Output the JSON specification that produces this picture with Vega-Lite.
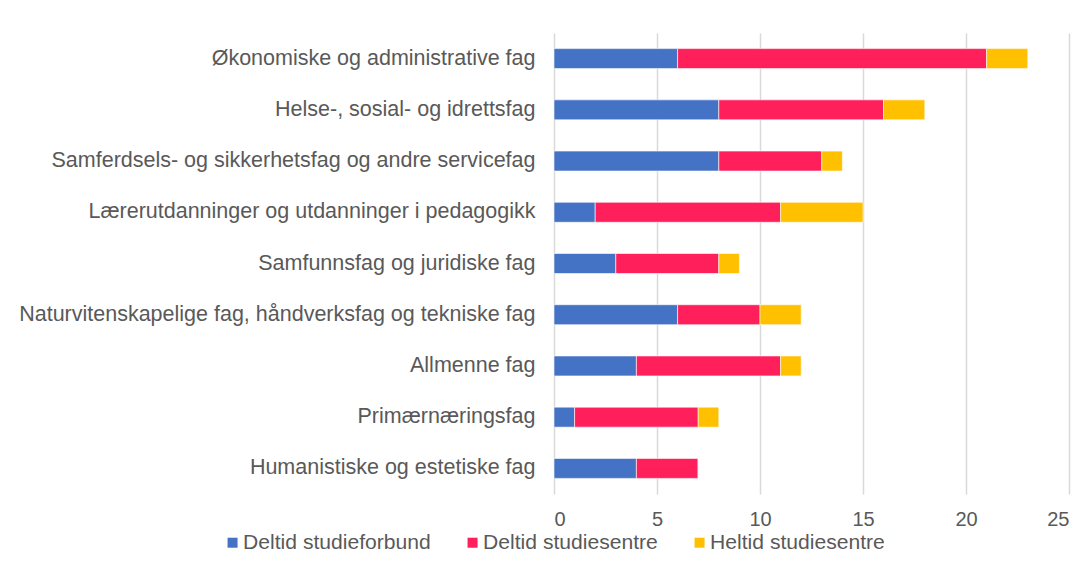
{
  "$schema": "https://vega.github.io/schema/vega-lite/v6.json",
  "width": 515,
  "height": 461,
  "autosize": "none",
  "padding": {"left": 554, "top": 33, "right": 17, "bottom": 78},
  "background": "white",
  "config": {
    "font": "Liberation Sans",
    "view": {"stroke": null},
    "axis": {"labelColor": "#595959", "labelFont": "Liberation Sans"},
    "legend": {"labelFont": "Liberation Sans"}
  },
  "data": {
    "values": [
      {"fag": "Økonomiske og administrative fag", "type": "Deltid studieforbund", "k": 1, "v": 6},
      {"fag": "Økonomiske og administrative fag", "type": "Deltid studiesentre", "k": 2, "v": 15},
      {"fag": "Økonomiske og administrative fag", "type": "Heltid studiesentre", "k": 3, "v": 2},
      {"fag": "Helse-, sosial- og idrettsfag", "type": "Deltid studieforbund", "k": 1, "v": 8},
      {"fag": "Helse-, sosial- og idrettsfag", "type": "Deltid studiesentre", "k": 2, "v": 8},
      {"fag": "Helse-, sosial- og idrettsfag", "type": "Heltid studiesentre", "k": 3, "v": 2},
      {"fag": "Samferdsels- og sikkerhetsfag og andre servicefag", "type": "Deltid studieforbund", "k": 1, "v": 8},
      {"fag": "Samferdsels- og sikkerhetsfag og andre servicefag", "type": "Deltid studiesentre", "k": 2, "v": 5},
      {"fag": "Samferdsels- og sikkerhetsfag og andre servicefag", "type": "Heltid studiesentre", "k": 3, "v": 1},
      {"fag": "Lærerutdanninger og utdanninger i pedagogikk", "type": "Deltid studieforbund", "k": 1, "v": 2},
      {"fag": "Lærerutdanninger og utdanninger i pedagogikk", "type": "Deltid studiesentre", "k": 2, "v": 9},
      {"fag": "Lærerutdanninger og utdanninger i pedagogikk", "type": "Heltid studiesentre", "k": 3, "v": 4},
      {"fag": "Samfunnsfag og juridiske fag", "type": "Deltid studieforbund", "k": 1, "v": 3},
      {"fag": "Samfunnsfag og juridiske fag", "type": "Deltid studiesentre", "k": 2, "v": 5},
      {"fag": "Samfunnsfag og juridiske fag", "type": "Heltid studiesentre", "k": 3, "v": 1},
      {"fag": "Naturvitenskapelige fag, håndverksfag og tekniske fag", "type": "Deltid studieforbund", "k": 1, "v": 6},
      {"fag": "Naturvitenskapelige fag, håndverksfag og tekniske fag", "type": "Deltid studiesentre", "k": 2, "v": 4},
      {"fag": "Naturvitenskapelige fag, håndverksfag og tekniske fag", "type": "Heltid studiesentre", "k": 3, "v": 2},
      {"fag": "Allmenne fag", "type": "Deltid studieforbund", "k": 1, "v": 4},
      {"fag": "Allmenne fag", "type": "Deltid studiesentre", "k": 2, "v": 7},
      {"fag": "Allmenne fag", "type": "Heltid studiesentre", "k": 3, "v": 1},
      {"fag": "Primærnæringsfag", "type": "Deltid studieforbund", "k": 1, "v": 1},
      {"fag": "Primærnæringsfag", "type": "Deltid studiesentre", "k": 2, "v": 6},
      {"fag": "Primærnæringsfag", "type": "Heltid studiesentre", "k": 3, "v": 1},
      {"fag": "Humanistiske og estetiske fag", "type": "Deltid studieforbund", "k": 1, "v": 4},
      {"fag": "Humanistiske og estetiske fag", "type": "Deltid studiesentre", "k": 2, "v": 3},
      {"fag": "Humanistiske og estetiske fag", "type": "Heltid studiesentre", "k": 3, "v": 0}
    ]
  },
  "mark": {"type": "bar", "stroke": "white", "strokeWidth": 0.6},
  "encoding": {
    "y": {
      "field": "fag",
      "type": "nominal",
      "sort": null,
      "title": null,
      "scale": {"paddingInner": 0.61, "paddingOuter": 0.305},
      "axis": {"ticks": false, "domain": false, "labelFontSize": 21.5, "labelPadding": 19, "labelLimit": 700}
    },
    "x": {
      "field": "v",
      "type": "quantitative",
      "title": null,
      "stack": "zero",
      "scale": {"domain": [0, 25], "nice": false},
      "axis": {"values": [0, 5, 10, 15, 20, 25], "ticks": false, "domain": false, "grid": true, "gridColor": "#d9d9d9", "gridWidth": 1.5, "labelFontSize": 20, "labelPadding": 15}
    },
    "color": {
      "field": "type",
      "type": "nominal",
      "scale": {"domain": ["Deltid studieforbund", "Deltid studiesentre", "Heltid studiesentre"], "range": ["#4472C4", "#FF1F5A", "#FFC000"]},
      "legend": {
        "title": null,
        "orient": "none",
        "direction": "horizontal",
        "legendX": -332,
        "legendY": 499,
        "symbolType": "square",
        "symbolSize": 100,
        "symbolStrokeWidth": 0,
        "labelFontSize": 21.1,
        "labelColor": "#595959",
        "labelOffset": 0,
        "columnPadding": 31,
        "labelLimit": 400
      }
    },
    "order": {"field": "k", "type": "quantitative"}
  }
}
